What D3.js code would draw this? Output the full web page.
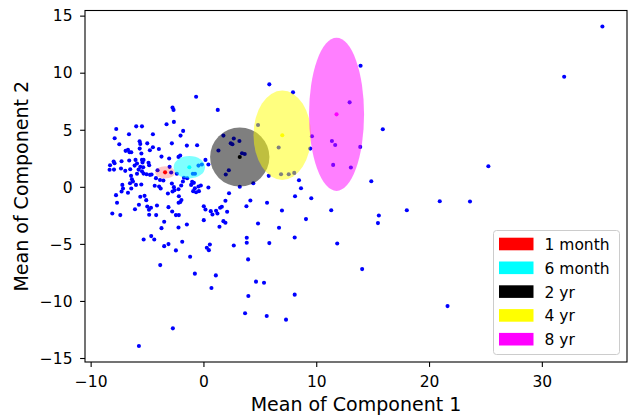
<!DOCTYPE html>
<html>
<head>
<meta charset="utf-8">
<script src="https://cdn.jsdelivr.net/npm/d3@7"></script>
<style>
  html, body { margin: 0; padding: 0; background: #fff; }
  svg { display: block; }
  text { font-family: "DejaVu Sans", sans-serif; fill: #000; }
</style>
</head>
<body>
<svg id="chart" width="631" height="416"></svg>
<script>
// Per-sample means of the two components
const samples = [
  [-0.65,7.89],[1.27,6.74],[-2.74,6.94],[-2.65,6.74],[-3.27,5.48],[-2.62,5.69],[-5.96,5.3],[-5.45,5.3],
  [-7.73,5.07],[-6.6,4.6],[-4.48,4.6],[-1.8,4.9],[-2.03,4.49],[-7.87,4.25],[-7.46,3.73],[-5.66,3.99],
  [-5.6,3.76],[-4.98,3.81],[-2.8,3.81],[-1.47,3.61],[-0.56,3.64],[-4.48,3.47],[-3.95,3.32],[-4.75,3.2],
  [-6.9,3.15],[-6.69,3.24],[-6.55,3.03],[-6.4,3.03],[-5.65,3.35],[-5.5,2.92],[-6.02,2.36],[-5.45,2.36],
  [-5.31,2.36],[-3.72,2.65],[-3.04,2.48],[-2.21,2.62],[-2.06,2.74],[-7.96,2.21],[-7.88,2.06],[-8.28,1.89],
  [-8.32,1.49],[-7.93,1.51],[-7.26,2.24],[-6.58,2.3],[-5.89,2.04],[-5.4,2.13],[-4.87,2.1],[-4.81,1.89],
  [-7.31,1.6],[-6.93,1.4],[-6.49,1.54],[-6.1,1.86],[-5.75,1.51],[-5.6,1.75],[-5.34,1.71],[-5.45,1.36],
  [-5.31,1.16],[-5.89,1.14],[-4.74,1.05],[-4.6,1.08],[-5.04,1.1],[-6.42,0.96],[-6.34,0.66],[-6.25,0.46],
  [-6.51,0.31],[-4.32,0.09],[-3.93,0.03],[-3.79,-0.15],[-3.85,0.6],[-3.55,0.55],[-4.21,0.76],[-7.19,0.17],
  [-7.13,-0.15],[-7.26,-0.41],[-7.75,-0.73],[-7.66,-1.4],[-6.69,-0.52],[-6.4,-0.15],[-5.98,0.17],[-5.51,0.2],
  [-3.15,-0.59],[-2.8,0.29],[-2.62,-0.03],[-2.57,-0.3],[-2.21,-0.21],[-2.18,-0.82],[-2.74,-0.41],[-1.97,0.11],
  [-1.82,0.46],[-1.73,0.79],[-1.44,0.75],[-1.09,0.17],[-0.85,0.35],[-0.76,-0.12],[-0.44,0.03],[-0.91,-0.38],
  [-0.65,-0.47],[-0.23,0.11],[0.44,-0.06],[-5.6,-0.87],[-5.22,-0.79],[-5.07,-1.17],[-6.07,-1.96],[-5.72,-1.57],
  [-4.98,-1.72],[-4.83,-2.01],[-4.65,-1.84],[-4.81,-2.45],[-4.19,-2.48],[-4.12,-1.64],[-3.1,-1.78],[-2.77,-2.16],
  [-2.44,-2.48],[-2.18,-2.48],[-8.08,-2.34],[-7.37,-2.48],[-3.48,-3.06],[-3.72,-3.62],[-2.21,-3.56],[-1.47,-3.3],
  [-5.3,-4.61],[-4.63,-4.32],[-4.36,-4.61],[-3.48,-5.2],[-3.1,-5.02],[-1.88,-4.81],[0.03,-1.7],[0.18,-1.99],
  [0.65,-2.13],[1.12,-2.1],[1.24,-2.34],[0.8,-2.42],[1.48,-1.84],[1.63,-1.75],[1.77,-3.01],[1.95,-3.15],
  [1.95,-1.22],[2.27,-0.56],[-4.07,1.45],[-0.94,1.14],[-0.75,1.14],[-0.44,1.86],[-0.14,1.95],[0.18,2.36],
  [0.44,1.95],[1.77,4.49],[1.33,3.18],[1.98,1.08],[-2.86,1.25],[-2.36,1.14],[-3.0,1.75],[-1.95,-1.15],
  [-2.05,-1.33],[-2.2,-1.4],[-1.0,0.45],[-0.4,-0.38],
  [-3.83,-6.86],[-5.72,-13.95],[-2.71,-12.4],[-2.44,-5.57],[-1.18,-6.13],[-0.76,-7.61],[0.71,-8.87],[1.1,-7.76],
  [0.3,-5.34],[0.48,-5.55],[0.57,-5.05],[2.69,-5.14],[3.84,-4.46],[3.84,-4.9],[3.96,-6.36],[5.84,-4.93],
  [4.66,-8.31],[5.37,-8.4],[3.98,-9.57],[3.69,-11.08],[5.61,-11.32],[4.84,-3.21],[6.7,-3.59],[1.42,-3.5],
  [2.1,-2.19],[0.03,-2.92],[3.81,-1.7],[4.16,-1.2],[5.64,-1.4],
  [5.84,8.98],[7.94,8.28],[13.93,10.61],[12.96,7.4],[4.84,5.42],[9.62,4.43],[11.39,4.02],[11.68,3.67],
  [13.9,3.5],[9.47,3.35],[6.67,3.44],[11.5,1.92],[13.07,1.69],[6.88,1.1],[7.56,1.1],[8.05,1.22],
  [14.88,0.49],[8.47,0.58],[8.65,-0.12],[8.12,-0.82],[5.79,0.96],[4.42,0.31],[3.22,0.0],[2.69,4.23],
  [3.19,4.02],[2.42,3.81],[2.57,3.73],[3.42,2.94],[3.66,2.88],[2.25,1.45],[9.56,-1.0],
  [6.96,-2.07],[11.33,-2.05],[18.03,-2.05],[15.55,-2.51],[15.47,-3.18],[9.09,-2.83],[8.09,-4.44],[11.86,-4.96],
  [14.07,-7.21],[8.09,-9.45],[7.32,-11.64],
  [35.37,14.05],[31.98,9.65],[15.9,5.04],[25.26,1.8],[20.95,-1.26],[23.63,-1.29],[21.64,-10.45]
];

// Age groups: mean position and spread (semi-axes) of each group
const groupLabels = ["1 month", "6 month", "2 yr", "4 yr", "8 yr"];
const groupColors = ["#ff0000", "#00ffff", "#000000", "#ffff00", "#ff00ff"];
const groupAlpha  = [0.22, 0.5, 0.5, 0.5, 0.5];
const meanX   = [-3.40, -1.25, 3.22, 6.99, 11.80];
const meanY   = [1.27, 1.72, 2.61, 4.52, 6.35];
const spreadX = [0.88, 1.39, 2.63, 2.55, 2.44];
const spreadY = [0.54, 0.98, 2.59, 3.92, 6.71];

const xTicks = [-10, 0, 10, 20, 30];
const yTicks = [-15, -10, -5, 0, 5, 10, 15];
const xTitle = "Mean of Component 1";
const yTitle = "Mean of Component 2";

const plot = { left: 85, right: 627, top: 10.5, bottom: 362 };
const fontTick = 15.5, fontTitle = 19, fontLegend = 15.5;
const dotRadius = 2.05;

const svg = d3.select("#chart");
const x = d3.scaleLinear().domain([-10.5, 37.55]).range([plot.left, plot.right]);
const y = d3.scaleLinear().domain([-15.35, 15.45]).range([plot.bottom, plot.top]);

const clipId = "plot-clip";
svg.append("defs").append("clipPath").attr("id", clipId)
  .append("rect")
  .attr("x", plot.left).attr("y", plot.top)
  .attr("width", plot.right - plot.left).attr("height", plot.bottom - plot.top);

const body = svg.append("g").attr("clip-path", `url(#${clipId})`);

// sample points
body.append("g").selectAll("circle").data(samples).join("circle")
  .attr("cx", d => x(d[0])).attr("cy", d => y(d[1]))
  .attr("r", dotRadius).attr("fill", "#0000ff");

// group means
body.append("g").selectAll("circle").data(groupLabels).join("circle")
  .attr("cx", (d, i) => x(meanX[i])).attr("cy", (d, i) => y(meanY[i]))
  .attr("r", dotRadius).attr("fill", (d, i) => groupColors[i]);

// group spread ellipses (translucent, on top of the points)
body.append("g").selectAll("ellipse").data(groupLabels).join("ellipse")
  .attr("cx", (d, i) => x(meanX[i])).attr("cy", (d, i) => y(meanY[i]))
  .attr("rx", (d, i) => x(meanX[i] + spreadX[i]) - x(meanX[i]))
  .attr("ry", (d, i) => y(meanY[i]) - y(meanY[i] + spreadY[i]))
  .attr("fill", (d, i) => groupColors[i])
  .attr("fill-opacity", (d, i) => groupAlpha[i]);

// axes
const fmt = d3.format("d");
const xAxis = svg.append("g").attr("transform", `translate(0,${plot.bottom})`)
  .call(d3.axisBottom(x).tickValues(xTicks).tickFormat(fmt).tickSize(4.9).tickSizeOuter(0));
const yAxis = svg.append("g").attr("transform", `translate(${plot.left},0)`)
  .call(d3.axisLeft(y).tickValues(yTicks).tickFormat(fmt).tickSize(4.9).tickSizeOuter(0));

[xAxis, yAxis].forEach(a => {
  a.select(".domain").remove();
  a.selectAll(".tick line").attr("stroke", "#000").attr("stroke-width", 1.1);
  a.selectAll(".tick text")
    .attr("font-family", "DejaVu Sans").attr("font-size", fontTick).attr("fill", "#000");
});
xAxis.selectAll(".tick text").attr("y", 14).attr("dy", "0.71em");
yAxis.selectAll(".tick text").attr("x", -12.5).attr("dy", "0.34em");

// frame
svg.append("rect")
  .attr("x", plot.left).attr("y", plot.top)
  .attr("width", plot.right - plot.left).attr("height", plot.bottom - plot.top)
  .attr("fill", "none").attr("stroke", "#000").attr("stroke-width", 1.1);

// axis titles
svg.append("text")
  .attr("x", (plot.left + plot.right) / 2).attr("y", 411)
  .attr("text-anchor", "middle").attr("font-size", fontTitle)
  .text(xTitle);
svg.append("text")
  .attr("transform", `translate(28,${(plot.top + plot.bottom) / 2}) rotate(-90)`)
  .attr("text-anchor", "middle").attr("font-size", fontTitle)
  .text(yTitle);

// legend
const legend = svg.append("g");
legend.append("rect")
  .attr("x", 493.5).attr("y", 230.5).attr("width", 126).attr("height", 124)
  .attr("rx", 3).attr("fill", "#fff").attr("fill-opacity", 0.8)
  .attr("stroke", "#cccccc").attr("stroke-width", 1);
const rowStep = 23.8, firstRow = 244;
const rows = legend.selectAll("g.row").data(groupLabels).join("g")
  .attr("class", "row")
  .attr("transform", (d, i) => `translate(0,${firstRow + i * rowStep})`);
rows.append("rect")
  .attr("x", 499).attr("y", -6.3).attr("width", 34.5).attr("height", 12.6)
  .attr("fill", (d, i) => groupColors[i]);
rows.append("text")
  .attr("x", 544.5).attr("y", 6)
  .attr("font-size", fontLegend)
  .text(d => d);
</script>
</body>
</html>
